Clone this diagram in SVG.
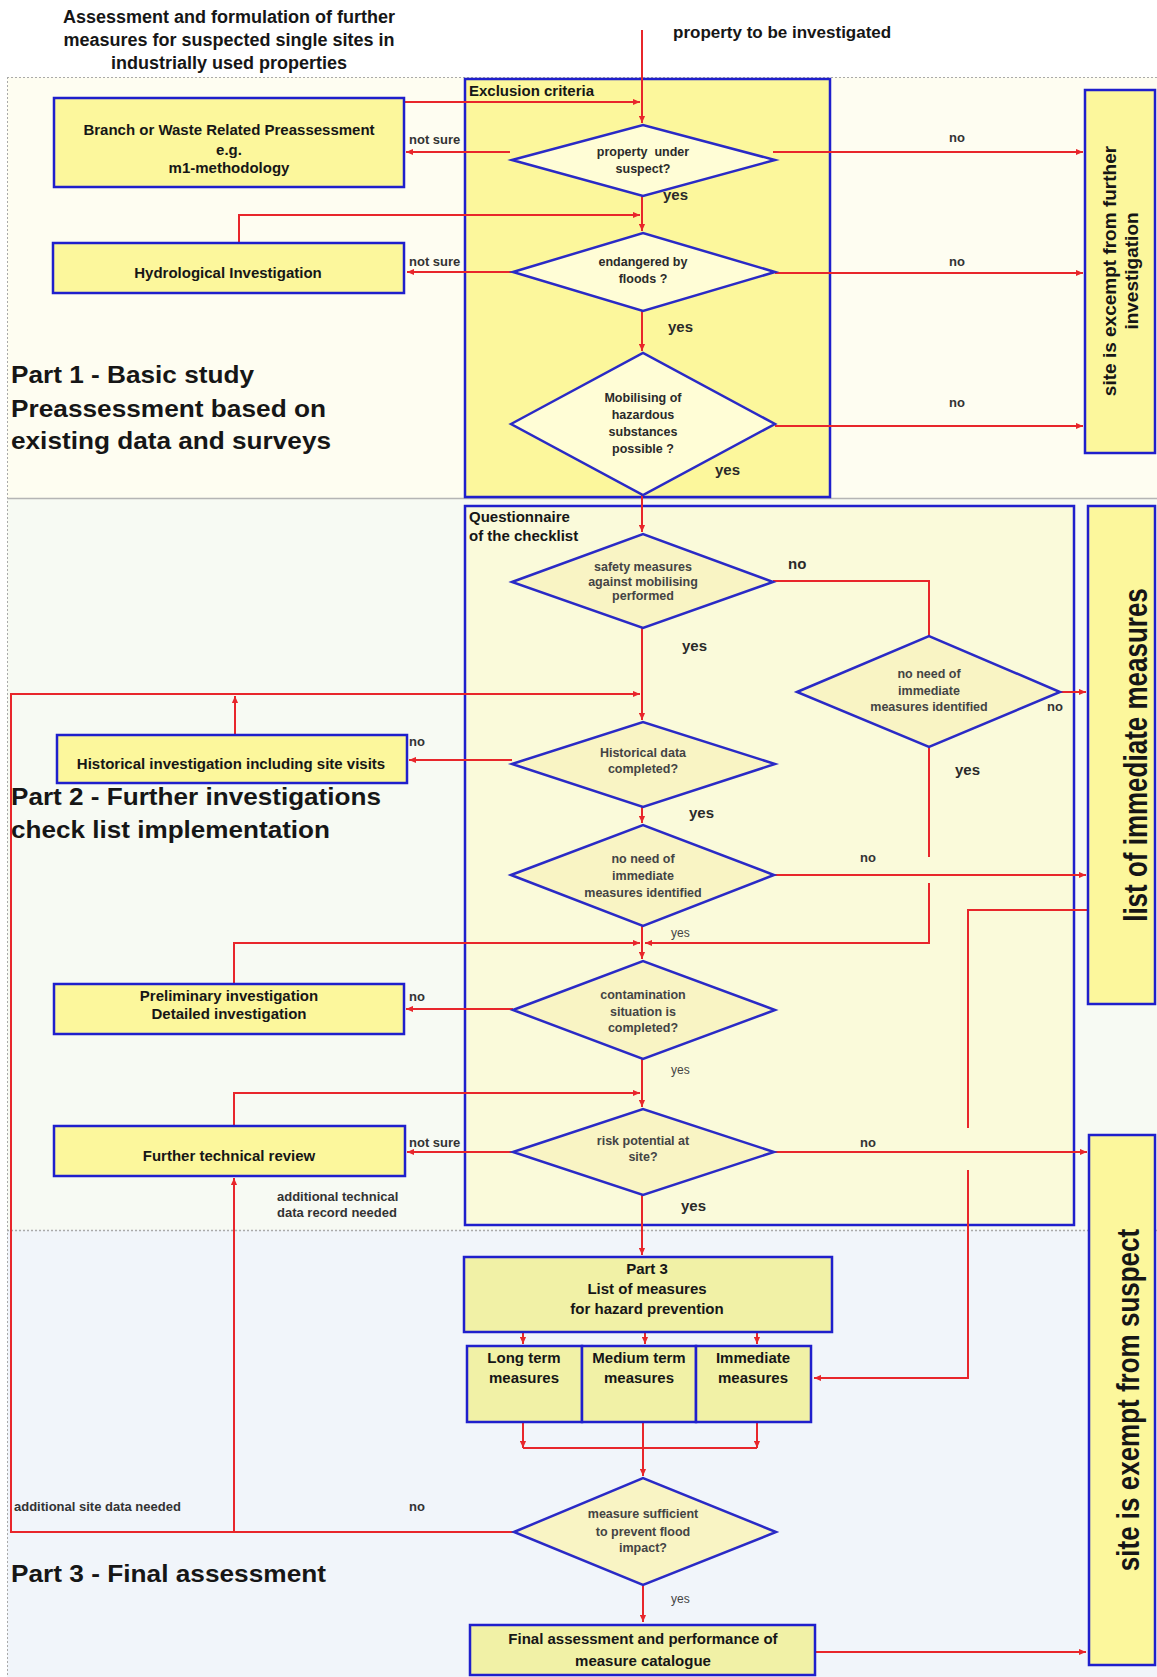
<svg xmlns="http://www.w3.org/2000/svg" width="1157" height="1677" viewBox="0 0 1157 1677">
<defs>
<style>
text{font-family:"Liberation Sans",Arial,sans-serif;font-weight:bold;fill:#161616}
.box{fill:#FCF79C;stroke:#1F1FCC;stroke-width:2.5}
.box3{fill:#F1F1A6;stroke:#1F1FCC;stroke-width:2.5}
.dia{fill:#FFFDD6;stroke:#2A2AC6;stroke-width:2.5}
.dia2{fill:#F9F4C4;stroke:#2A2AC6;stroke-width:2.5}
.conn{fill:none;stroke:#E8262B;stroke-width:2}
.arr{marker-end:url(#ah)}
.bt{font-size:15px;text-anchor:middle}
.dt{font-size:12.5px;text-anchor:middle;fill:#2a2a2a}
.dq{font-size:12.5px;text-anchor:middle;fill:#444}
.lbl{font-size:13px;fill:#333}
.y15{font-size:15px;fill:#2a2a2a}
.y12{font-size:12px;fill:#444;font-weight:normal}
.head{font-size:24px}
.rot{font-size:19px;text-anchor:middle}
.rotb{font-size:26px;text-anchor:middle}
</style>
<marker id="ah" viewBox="0 0 8 8" refX="8" refY="4" markerWidth="7" markerHeight="7" markerUnits="userSpaceOnUse" orient="auto">
<path d="M0,0.5 L8,4 L0,7.5 z" fill="#E8262B"/>
</marker>
</defs>

<!-- backgrounds -->
<g id="background">
<rect x="0" y="0" width="1157" height="1677" fill="#FFFFFF"/>
<rect x="7" y="77" width="1150" height="421" fill="#FEFDF1"/>
<rect x="7" y="498" width="1150" height="732" fill="#F7FAF3"/>
<rect x="7" y="1230" width="1150" height="447" fill="#F1F5FA"/>
<line x1="7" y1="77.5" x2="1157" y2="77.5" stroke="#AAAAAA" stroke-width="1" stroke-dasharray="2,2"/>
<line x1="7.5" y1="77" x2="7.5" y2="1677" stroke="#AAAAAA" stroke-width="1" stroke-dasharray="2,2"/>
<line x1="7" y1="498.5" x2="1157" y2="498.5" stroke="#B5B5B5" stroke-width="1.5"/>
<line x1="7" y1="1230.5" x2="1157" y2="1230.5" stroke="#AAAAAA" stroke-width="1.5" stroke-dasharray="2,2"/>
</g>

<!-- titles and headings -->
<g id="titles">
<text x="229" y="23" font-size="18" text-anchor="middle">Assessment and formulation of further</text>
<text x="229" y="46" font-size="18" text-anchor="middle">measures for suspected single sites in</text>
<text x="229" y="69" font-size="18" text-anchor="middle">industrially used properties</text>
<text x="673" y="38" font-size="17">property to be investigated</text>
<text class="head" x="11" y="383" textLength="243" lengthAdjust="spacingAndGlyphs">Part 1 - Basic study</text>
<text class="head" x="11" y="417" textLength="315" lengthAdjust="spacingAndGlyphs">Preassessment based on</text>
<text class="head" x="11" y="449" textLength="320" lengthAdjust="spacingAndGlyphs">existing data and surveys</text>
<text class="head" x="11" y="805" textLength="370" lengthAdjust="spacingAndGlyphs">Part 2 - Further investigations</text>
<text class="head" x="11" y="838" textLength="319" lengthAdjust="spacingAndGlyphs">check list implementation</text>
<text class="head" x="11" y="1582" textLength="315" lengthAdjust="spacingAndGlyphs">Part 3 - Final assessment</text>
</g>

<!-- containers -->
<g id="exclusion-criteria">
<rect class="box" x="465" y="79" width="365" height="418"/>
<text x="469" y="96" font-size="15">Exclusion criteria</text>
</g>
<g id="questionnaire">
<rect x="465" y="506" width="609" height="719" fill="#FAFADA" stroke="#1F1FCC" stroke-width="2.5"/>
<text x="469" y="522" font-size="15">Questionnaire</text>
<text x="469" y="541" font-size="15">of the checklist</text>
</g>

<!-- connectors -->
<g id="connectors">
<path class="conn arr" d="M642,30 V123"/>
<path class="conn arr" d="M404,102 H640"/>
<path class="conn arr" d="M510,152 H406"/>
<path class="conn arr" d="M773,152 H1083"/>
<path class="conn arr" d="M642,196 V231"/>
<path class="conn arr" d="M239,243 V215 H640"/>
<path class="conn arr" d="M513,272 H407"/>
<path class="conn arr" d="M775,273 H1083"/>
<path class="conn arr" d="M642,311 V351"/>
<path class="conn arr" d="M775,426 H1083"/>
<path class="conn arr" d="M642,495 V532"/>
<path class="conn" d="M773,581 H929 V636"/>
<path class="conn arr" d="M642,628 V720"/>
<path class="conn arr" d="M514,1532 H11 V694 H640"/>
<path class="conn arr" d="M235,735 V696"/>
<path class="conn arr" d="M512,760 H409"/>
<path class="conn arr" d="M642,807 V823"/>
<path class="conn arr" d="M1060,692 H1086"/>
<path class="conn" d="M929,747 V857"/>
<path class="conn arr" d="M929,883 V943 H645"/>
<path class="conn arr" d="M774,875 H1086"/>
<path class="conn arr" d="M642,926 V959"/>
<path class="conn arr" d="M234,984 V943 H640"/>
<path class="conn arr" d="M513,1009 H406"/>
<path class="conn arr" d="M642,1059 V1107"/>
<path class="conn arr" d="M234,1126 V1093 H640"/>
<path class="conn arr" d="M513,1152 H407"/>
<path class="conn arr" d="M774,1152 H1087"/>
<path class="conn arr" d="M234,1532 V1178"/>
<path class="conn" d="M1088,910 H968 V1128"/>
<path class="conn arr" d="M968,1170 V1378 H814"/>
<path class="conn arr" d="M642,1195 V1255"/>
<path class="conn arr" d="M523,1324 V1344"/>
<path class="conn arr" d="M645,1324 V1344"/>
<path class="conn arr" d="M757,1324 V1344"/>
<path class="conn arr" d="M523,1422 V1448"/>
<path class="conn arr" d="M757,1422 V1448"/>
<path class="conn" d="M523,1448 H757"/>
<path class="conn arr" d="M643,1422 V1476"/>
<path class="conn arr" d="M643,1585 V1622"/>
<path class="conn arr" d="M815,1652 H1086"/>
</g>

<!-- connector labels -->
<g id="labels">
<text class="lbl" x="409" y="144">not sure</text>
<text class="lbl" x="409" y="266">not sure</text>
<text class="lbl" x="957" y="142" text-anchor="middle">no</text>
<text class="lbl" x="957" y="266" text-anchor="middle">no</text>
<text class="lbl" x="957" y="407" text-anchor="middle">no</text>
<text class="y15" x="663" y="200">yes</text>
<text class="y15" x="668" y="332">yes</text>
<text class="y15" x="715" y="475">yes</text>
<text class="y15" x="788" y="569" fill="#444">no</text>
<text class="y15" x="682" y="651">yes</text>
<text class="lbl" x="1047" y="711" font-size="14">no</text>
<text class="y15" x="955" y="775" font-size="14">yes</text>
<text class="lbl" x="409" y="746">no</text>
<text class="y15" x="689" y="818" font-size="14">yes</text>
<text class="lbl" x="860" y="862" font-size="14">no</text>
<text class="y12" x="671" y="937">yes</text>
<text class="lbl" x="409" y="1001">no</text>
<text class="y12" x="671" y="1074">yes</text>
<text class="lbl" x="409" y="1147">not sure</text>
<text class="lbl" x="860" y="1147">no</text>
<text class="y15" x="681" y="1211">yes</text>
<text class="lbl" x="277" y="1201" font-size="12.5">additional technical</text>
<text class="lbl" x="277" y="1217" font-size="12.5">data record needed</text>
<text class="lbl" x="14" y="1511">additional site data needed</text>
<text class="lbl" x="409" y="1511">no</text>
<text class="y12" x="671" y="1603">yes</text>
</g>

<!-- part 1 nodes -->
<g id="branch-preassessment">
<rect class="box" x="54" y="98" width="350" height="89"/>
<text class="bt" x="229" y="135">Branch or Waste Related Preassessment</text>
<text class="bt" x="229" y="155">e.g.</text>
<text class="bt" x="229" y="173">m1-methodology</text>
</g>
<g id="hydrological-investigation">
<rect class="box" x="53" y="243" width="351" height="50"/>
<text class="bt" x="228" y="278">Hydrological Investigation</text>
</g>
<g id="d-property-under-suspect">
<polygon class="dia" points="512,160 643,125 775,160 643,196"/>
<text class="dt" x="643" y="156" style="white-space:pre">property  under</text>
<text class="dt" x="643" y="173">suspect?</text>
</g>
<g id="d-endangered-by-floods">
<polygon class="dia" points="513,272 643,233 775,272 643,311"/>
<text class="dt" x="643" y="266">endangered by</text>
<text class="dt" x="643" y="283">floods ?</text>
</g>
<g id="d-mobilising">
<polygon class="dia" points="511,424 643,353 775,424 643,495"/>
<text class="dt" x="643" y="402" font-size="13">Mobilising of</text>
<text class="dt" x="643" y="419" font-size="13">hazardous</text>
<text class="dt" x="643" y="436" font-size="13">substances</text>
<text class="dt" x="643" y="453" font-size="13">possible ?</text>
</g>
<g id="site-exempt-further">
<rect class="box" x="1085" y="90" width="70" height="363"/>
<text class="rot" transform="translate(1116,271) rotate(-90)">site is excempt from further</text>
<text class="rot" transform="translate(1138,271) rotate(-90)">investigation</text>
</g>

<!-- part 2 nodes -->
<g id="d-safety-measures">
<polygon class="dia2" points="512,582 643,534 773,582 643,628"/>
<text class="dq" x="643" y="571" font-size="11.5">safety measures</text>
<text class="dq" x="643" y="586" font-size="11.5">against mobilising</text>
<text class="dq" x="643" y="600" font-size="11.5">performed</text>
</g>
<g id="d-no-need-right">
<polygon class="dia2" points="797,692 929,636 1060,692 929,747"/>
<text class="dq" x="929" y="678">no need of</text>
<text class="dq" x="929" y="695">immediate</text>
<text class="dq" x="929" y="711">measures identified</text>
</g>
<g id="historical-investigation">
<rect class="box" x="57" y="735" width="350" height="48"/>
<text class="bt" x="231" y="769">Historical investigation including site visits</text>
</g>
<g id="d-historical-data">
<polygon class="dia2" points="512,764 643,722 775,764 643,807"/>
<text class="dq" x="643" y="757" font-size="13">Historical data</text>
<text class="dq" x="643" y="773" font-size="13">completed?</text>
</g>
<g id="d-no-need-center">
<polygon class="dia2" points="511,875 643,825 774,875 643,926"/>
<text class="dq" x="643" y="863">no need of</text>
<text class="dq" x="643" y="880">immediate</text>
<text class="dq" x="643" y="897">measures identified</text>
</g>
<g id="preliminary-investigation">
<rect class="box" x="54" y="984" width="350" height="50"/>
<text class="bt" x="229" y="1001">Preliminary investigation</text>
<text class="bt" x="229" y="1019">Detailed investigation</text>
</g>
<g id="d-contamination">
<polygon class="dia2" points="513,1010 643,961 775,1010 643,1059"/>
<text class="dq" x="643" y="999" font-size="13">contamination</text>
<text class="dq" x="643" y="1016" font-size="13">situation is</text>
<text class="dq" x="643" y="1032" font-size="13">completed?</text>
</g>
<g id="further-technical-review">
<rect class="box" x="54" y="1126" width="351" height="50"/>
<text class="bt" x="229" y="1161">Further technical review</text>
</g>
<g id="d-risk-potential">
<polygon class="dia2" points="513,1152 643,1109 774,1152 643,1195"/>
<text class="dq" x="643" y="1145" font-size="13">risk potential at</text>
<text class="dq" x="643" y="1161" font-size="13">site?</text>
</g>
<g id="list-immediate-measures">
<rect class="box" x="1088" y="506" width="67" height="498"/>
<text class="rotb" transform="translate(1147,755) rotate(-90) scale(1,1.3)">list of immediate measures</text>
</g>

<!-- part 3 nodes -->
<g id="list-of-measures">
<rect class="box3" x="464" y="1257" width="368" height="75"/>
<text class="bt" x="647" y="1274" font-size="15.5">Part 3</text>
<text class="bt" x="647" y="1294" font-size="15.5">List of measures</text>
<text class="bt" x="647" y="1314" font-size="15.5">for hazard prevention</text>
</g>
<g id="long-term-measures">
<rect class="box3" x="467" y="1346" width="115" height="76"/>
<text class="bt" x="524" y="1363" font-size="15.5">Long term</text>
<text class="bt" x="524" y="1383" font-size="15.5">measures</text>
</g>
<g id="medium-term-measures">
<rect class="box3" x="582" y="1346" width="114" height="76"/>
<text class="bt" x="639" y="1363" font-size="15.5">Medium term</text>
<text class="bt" x="639" y="1383" font-size="15.5">measures</text>
</g>
<g id="immediate-measures">
<rect class="box3" x="696" y="1346" width="115" height="76"/>
<text class="bt" x="753" y="1363" font-size="15.5">Immediate</text>
<text class="bt" x="753" y="1383" font-size="15.5">measures</text>
</g>
<g id="d-measure-sufficient">
<polygon class="dia2" points="514,1532 643,1478 776,1532 643,1585"/>
<text class="dq" x="643" y="1518" font-size="13">measure sufficient</text>
<text class="dq" x="643" y="1536" font-size="13">to prevent flood</text>
<text class="dq" x="643" y="1552" font-size="13">impact?</text>
</g>
<g id="final-assessment">
<rect class="box3" x="470" y="1625" width="345" height="50"/>
<text class="bt" x="643" y="1644" font-size="17">Final assessment and performance of</text>
<text class="bt" x="643" y="1666" font-size="17">measure catalogue</text>
</g>
<g id="site-exempt-suspect">
<rect class="box" x="1089" y="1135" width="66" height="530"/>
<text class="rotb" transform="translate(1139,1400) rotate(-90) scale(1,1.2)">site is exempt from suspect</text>
</g>
</svg>
